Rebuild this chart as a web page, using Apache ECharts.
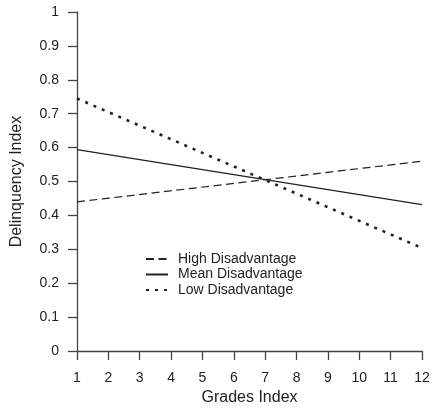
<!DOCTYPE html>
<html><head><meta charset="utf-8">
<script src="https://cdn.jsdelivr.net/npm/echarts@6/dist/echarts.min.js"></script>
<style>html,body{margin:0;padding:0;background:#fff}#c{width:435px;height:411px}</style>
</head><body><div id="c"></div>
<script>
const gradesX = [1, 12];
const highDisadvantage = [0.44, 0.56];
const meanDisadvantage = [0.594, 0.432];
const lowDisadvantage = [0.745, 0.304];
const seriesNames = ['High Disadvantage', 'Mean Disadvantage', 'Low Disadvantage'];

const pairs = vals => gradesX.map((x, i) => [x, vals[i]]);
const font = 'Liberation Sans, Arial, sans-serif';
const axisCol = '#444';
const txtCol = '#222';
const chart = echarts.init(document.getElementById('c'), null, {renderer: 'canvas'});
chart.setOption({
  animation: false,
  textStyle: {fontFamily: font},
  grid: {left: 77, right: 13, top: 12, bottom: 54},
  legend: {
    left: 140, top: 247, orient: 'vertical', itemGap: 1.5, itemWidth: 22, itemHeight: 16,
    itemStyle: {opacity: 0},
    textStyle: {fontFamily: font, fontSize: 14, color: txtCol, padding: [0, 0, 0, 5]},
    data: seriesNames
  },
  xAxis: {
    type: 'value', min: 1, max: 12, interval: 1,
    name: 'Grades Index', nameLocation: 'middle', nameGap: 36,
    nameTextStyle: {fontFamily: font, fontSize: 16, color: txtCol},
    axisLine: {lineStyle: {color: axisCol, width: 1.3}},
    axisTick: {length: 9, lineStyle: {color: axisCol, width: 1.3}},
    axisLabel: {fontFamily: font, fontSize: 14, color: txtCol, margin: 20},
    splitLine: {show: false}
  },
  yAxis: {
    type: 'value', min: 0, max: 1, interval: 0.1,
    name: 'Delinquency Index', nameLocation: 'middle', nameGap: 52,
    nameTextStyle: {fontFamily: font, fontSize: 16, color: txtCol},
    axisLine: {show: true, lineStyle: {color: axisCol, width: 1.3}},
    axisTick: {show: true, length: 9, lineStyle: {color: axisCol, width: 1.3}},
    axisLabel: {fontFamily: font, fontSize: 14, color: txtCol, margin: 18,
      formatter: v => String(Math.round(v * 10) / 10)},
    splitLine: {show: false}
  },
  series: [
    {name: seriesNames[0], type: 'line', symbol: 'none', data: pairs(highDisadvantage),
     color: '#222', lineStyle: {color: '#222', width: 1.2, type: [8, 4.5]}},
    {name: seriesNames[1], type: 'line', symbol: 'none', data: pairs(meanDisadvantage),
     color: '#222', lineStyle: {color: '#222', width: 1.2, type: 'solid'}},
    {name: seriesNames[2], type: 'line', symbol: 'none', data: pairs(lowDisadvantage),
     color: '#222', lineStyle: {color: '#222', width: 2.6, type: [3, 6]}}
  ]
});
</script></body></html>
